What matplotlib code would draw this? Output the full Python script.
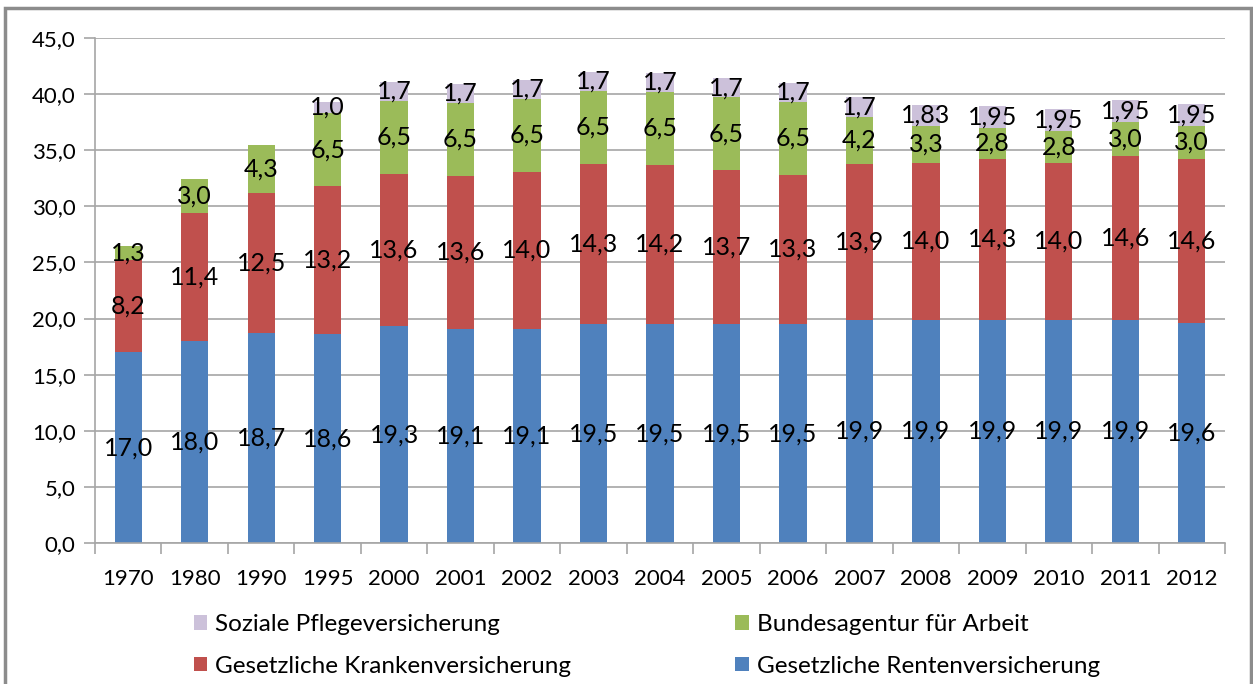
import matplotlib
matplotlib.use("Agg")
import matplotlib.pyplot as plt
import numpy as np
from matplotlib.patches import Rectangle

# Daten (Beitragssätze in %)
jahre = ["1970", "1980", "1990", "1995", "2000", "2001", "2002", "2003", "2004",
         "2005", "2006", "2007", "2008", "2009", "2010", "2011", "2012"]
rente = [17.0, 18.0, 18.7, 18.6, 19.3, 19.1, 19.1, 19.5, 19.5, 19.5, 19.5,
         19.9, 19.9, 19.9, 19.9, 19.9, 19.6]
kranken = [8.2, 11.4, 12.5, 13.2, 13.6, 13.6, 14.0, 14.3, 14.2, 13.7, 13.3,
           13.9, 14.0, 14.3, 14.0, 14.6, 14.6]
arbeit = [1.3, 3.0, 4.3, 6.5, 6.5, 6.5, 6.5, 6.5, 6.5, 6.5, 6.5,
          4.2, 3.3, 2.8, 2.8, 3.0, 3.0]
pflege = [0.0, 0.0, 0.0, 1.0, 1.7, 1.7, 1.7, 1.7, 1.7, 1.7, 1.7,
          1.7, 1.83, 1.95, 1.95, 1.95, 1.95]

plt.rcParams['font.family'] = ['Lato', 'DejaVu Sans']

fig = plt.figure(figsize=(12.53, 6.84), dpi=100)
ax = fig.add_axes([95 / 1253, 1 - 543 / 684, (1225 - 95) / 1253, (543 - 38) / 684])

# grauer Rahmen um das Diagramm
fig.patches.append(Rectangle((5 / 1253, -0.05), (1251 - 5) / 1253, 1 - 8 / 684 + 0.05,
                             transform=fig.transFigure, fill=False,
                             edgecolor="#8c8c8c", linewidth=2.5))

x = np.arange(len(jahre))
breite = 0.41
serien = [
    (rente, "#4F81BD", "Gesetzliche Rentenversicherung", "{:.1f}"),
    (kranken, "#C0504D", "Gesetzliche Krankenversicherung", "{:.1f}"),
    (arbeit, "#9BBB59", "Bundesagentur für Arbeit", "{:.1f}"),
    (pflege, "#CCC1DA", "Soziale Pflegeversicherung", None),
]

boden = np.zeros(len(jahre))
balken = {}
for werte, farbe, name, fmt in serien:
    werte = np.array(werte)
    b = ax.bar(x, werte, breite, bottom=boden, color=farbe, label=name, zorder=2)
    balken[name] = b
    for i, v in enumerate(werte):
        if v <= 0:
            continue
        if fmt is None:
            txt = ("{:.2f}" if round(v, 1) != v else "{:.1f}").format(v)
        else:
            txt = fmt.format(v)
        txt = txt.replace(".", ",")
        ax.text(x[i], boden[i] + v / 2, txt, ha="center", va="center",
                fontsize=18, color="black", zorder=3)
    boden = boden + werte

ax.set_ylim(0, 45)
ax.set_xlim(-0.5, len(jahre) - 0.5)
ax.set_yticks(np.arange(0, 46, 5))
ax.set_yticklabels([f"{v:.1f}".replace(".", ",") for v in np.arange(0, 46, 5)], fontsize=16)
ax.yaxis.grid(True, color="#a6a6a6", linewidth=1.2, zorder=0)
ax.set_axisbelow(True)

ax.set_xticks(x)
ax.set_xticklabels(jahre, fontsize=16)
ax.tick_params(axis="x", length=0, pad=19)
ax.set_xticks(np.arange(-0.5, len(jahre), 1), minor=True)
ax.tick_params(axis="x", which="minor", length=8, color="#a6a6a6", width=1.2)
ax.tick_params(axis="y", length=8, color="#a6a6a6", width=1.2, pad=6)

for s in ["top", "right"]:
    ax.spines[s].set_visible(False)
for s in ["left", "bottom"]:
    ax.spines[s].set_color("#a6a6a6")
    ax.spines[s].set_linewidth(1.2)

reihenfolge = ["Soziale Pflegeversicherung", "Gesetzliche Krankenversicherung",
               "Bundesagentur für Arbeit", "Gesetzliche Rentenversicherung"]
ax.legend([balken[n] for n in reihenfolge], reihenfolge, ncol=2, frameon=False,
          fontsize=17.5, loc="upper left", bbox_to_anchor=(172 / 1253, 1 - 592 / 684),
          bbox_transform=fig.transFigure, handlelength=0.55, handleheight=0.55,
          handletextpad=0.33, columnspacing=6.75, labelspacing=0.85)

fig.savefig("out.png", dpi=100)
